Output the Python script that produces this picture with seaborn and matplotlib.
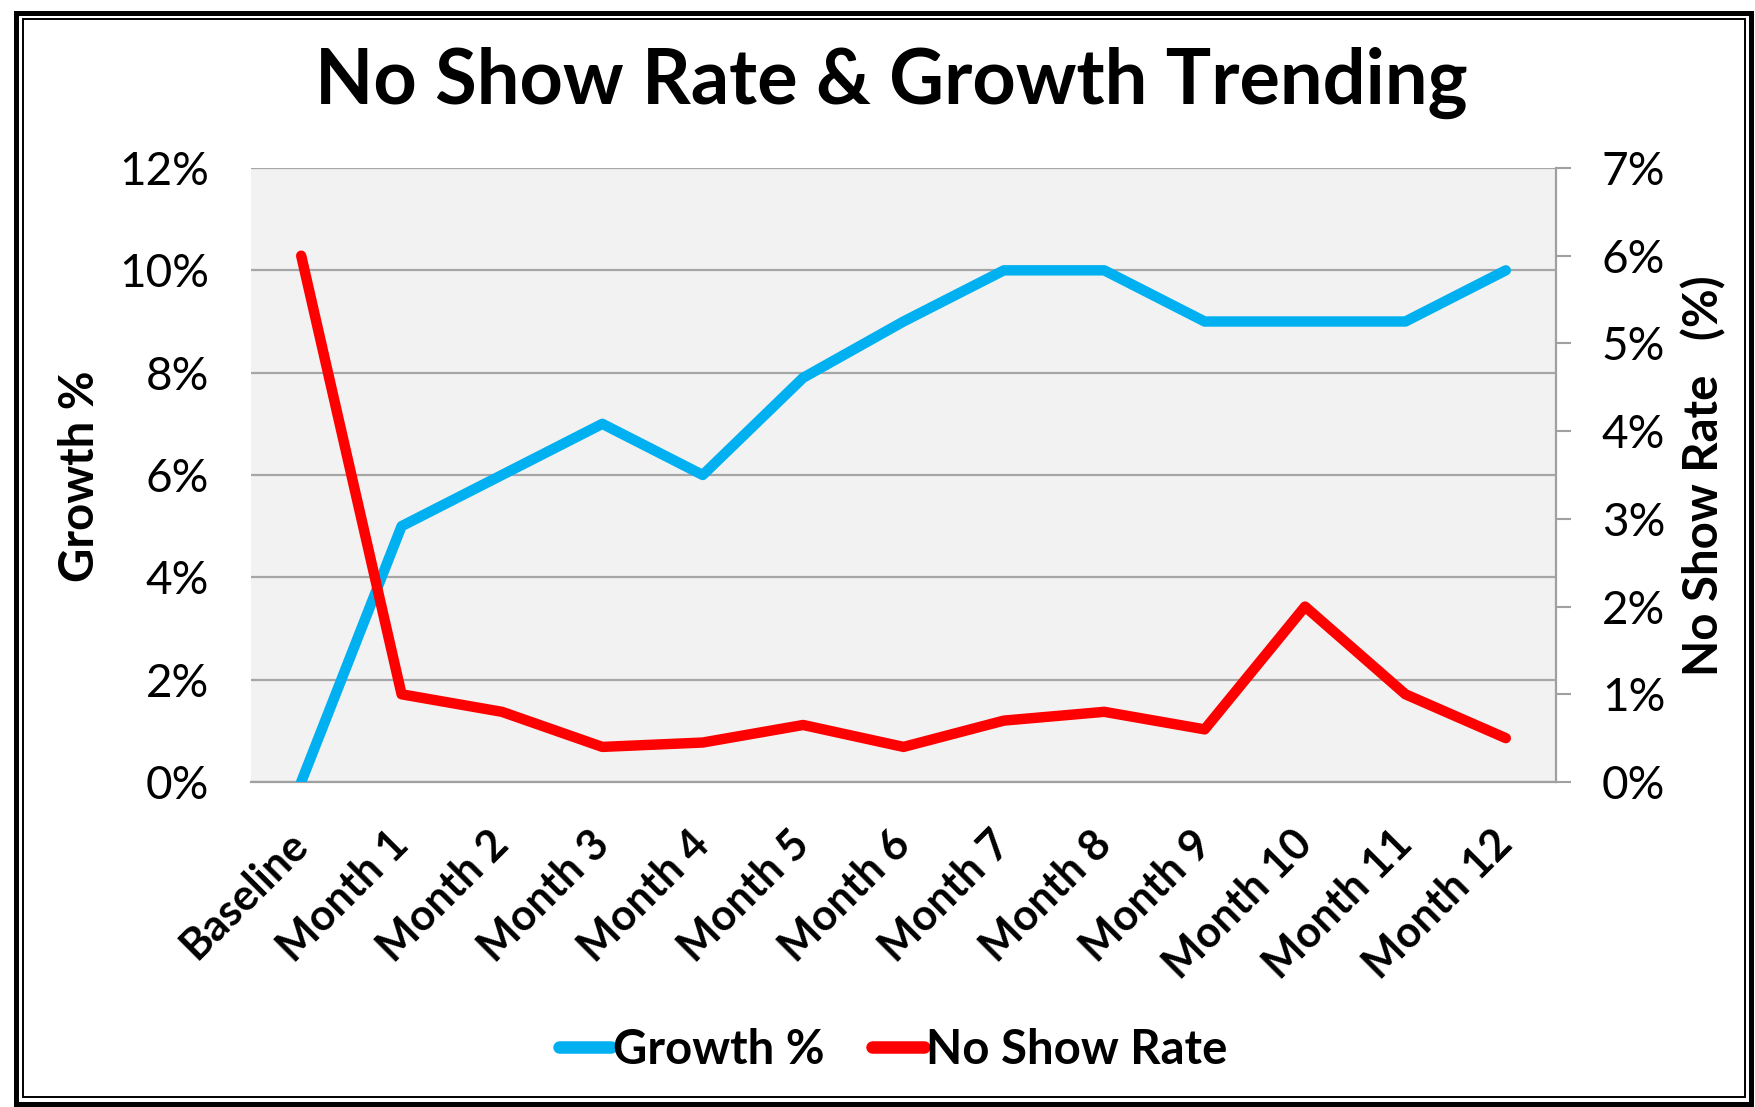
import matplotlib
matplotlib.use("Agg")
import matplotlib.pyplot as plt
import seaborn as sns
import pandas as pd
from matplotlib.patches import Rectangle
from matplotlib.ticker import FuncFormatter

categories = ["Baseline", "Month 1", "Month 2", "Month 3", "Month 4", "Month 5", "Month 6",
              "Month 7", "Month 8", "Month 9", "Month 10", "Month 11", "Month 12"]
growth = [0, 5, 6, 7, 6, 7.9, 9, 10, 10, 9, 9, 9, 10]
no_show = [6.0, 1.0, 0.8, 0.4, 0.45, 0.65, 0.4, 0.7, 0.8, 0.6, 2.0, 1.0, 0.5]
left_ticks = [0, 2, 4, 6, 8, 10, 12]
right_ticks = [0, 1, 2, 3, 4, 5, 6, 7]

sns.set_theme(style="white")
plt.rcParams["font.family"] = ["Lato", "DejaVu Sans"]
for k in ("text.color", "axes.labelcolor", "xtick.color", "ytick.color"):
    plt.rcParams[k] = "black"

W, H = 1755, 1107
fig = plt.figure(figsize=(W / 100, H / 100), dpi=100)
fig.patch.set_facecolor("white")

L, R, T, B = 251, 1556, 168, 782
ax = fig.add_axes([L / W, 1 - B / H, (R - L) / W, (B - T) / H])
ax.set_facecolor("#F2F2F2")

df = pd.DataFrame({"x": list(range(len(categories))), "cat": categories,
                   "growth": growth, "noshow": no_show})

sns.lineplot(data=df, x="x", y="growth", ax=ax, color="#00B0F0", lw=7.5,
             solid_capstyle="round", solid_joinstyle="round", label="Growth %", legend=False, zorder=3)
ax2 = ax.twinx()
sns.lineplot(data=df, x="x", y="noshow", ax=ax2, color="#FF0000", lw=7.5,
             solid_capstyle="round", solid_joinstyle="round", label="No Show Rate", legend=False, zorder=3)

ax.set_xlim(-0.5, len(categories) - 0.5)
ax.set_ylim(0, 12)
ax2.set_ylim(0, 7)
ax.set_yticks(left_ticks)
ax2.set_yticks(right_ticks)
pct = FuncFormatter(lambda v, p: f"{v:g}%")
ax.yaxis.set_major_formatter(pct)
ax2.yaxis.set_major_formatter(pct)

ax.set_xticks(df["x"])
ax.set_xticklabels(categories, rotation=45, ha="right", va="center", rotation_mode="anchor",
                   fontsize=31, fontweight="bold")
ax.tick_params(axis="x", length=0, pad=40)
ax.tick_params(axis="y", length=0, pad=30, labelsize=33)
ax2.tick_params(axis="y", length=11, width=1.5, color="#A0A0A0", pad=22, labelsize=33, right=True)

ax.grid(axis="y", color="#A6A6A6", lw=1.6)
ax.grid(axis="x", visible=False)
ax2.grid(False)
for a in (ax, ax2):
    for s in a.spines.values():
        s.set_visible(False)
ax2.spines["right"].set_visible(True)
ax2.spines["right"].set_color("#A0A0A0")
ax2.spines["right"].set_linewidth(1.6)
ax.spines["bottom"].set_visible(True)
ax.spines["bottom"].set_color("#A0A0A0")
ax.spines["bottom"].set_linewidth(1.6)

ax.set_xlabel("")
ax.set_ylabel("")
ax2.set_ylabel("")
fig.text(80 / W, 1 - 476 / H, "Growth %", rotation=90, ha="center", va="center",
         fontsize=34, fontweight="bold")
fig.text(1704 / W, 1 - 476 / H, "No Show Rate   (%)", rotation=90, ha="center", va="center",
         fontsize=34, fontweight="bold")

fig.text(891 / W, 1 - 83 / H, "No Show Rate & Growth Trending", ha="center", va="center",
         fontsize=54.5, fontweight="bold")

h1, l1 = ax.get_legend_handles_labels()
h2, l2 = ax2.get_legend_handles_labels()
leg = fig.legend(h1 + h2, l1 + l2, loc="center", bbox_to_anchor=(893 / W, 1 - 1050 / H), ncol=2,
                 frameon=False, prop={"size": 34, "weight": "bold"}, handlelength=1.1,
                 handletextpad=0.05, columnspacing=1.0)
for ln in leg.get_lines():
    ln.set_linewidth(9)
    ln.set_solid_capstyle("round")

# double border
def px_rect(x0, y0, x1, y1, lw):
    fig.patches.append(Rectangle((x0 / W, 1 - y1 / H), (x1 - x0) / W, (y1 - y0) / H,
                                 transform=fig.transFigure, fill=False, ec="black", lw=lw))

px_rect(16, 12.5, 1751, 1104, 3.6)
px_rect(23, 19, 1745, 1097, 1.4)

fig.savefig("out.png", dpi=100, facecolor="white")
